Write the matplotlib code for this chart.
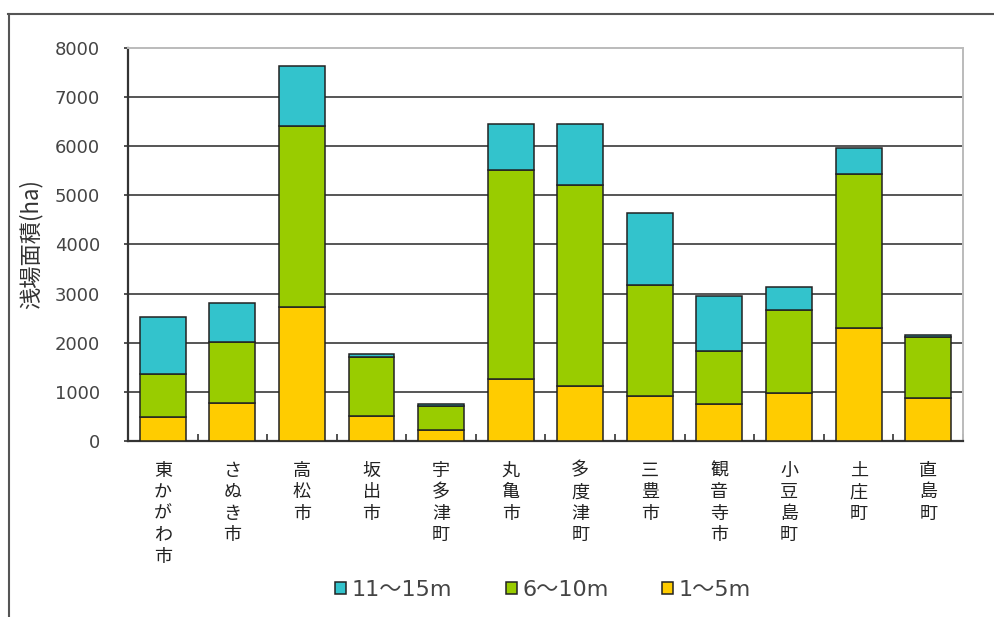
import numpy as np
import matplotlib
matplotlib.use('Agg')
import matplotlib.pyplot as plt
from matplotlib.lines import Line2D

plt.rcParams['font.family'] = ['Noto Sans CJK JP', 'DejaVu Sans']

towns = ['東かがわ市', 'さぬき市', '高松市', '坂出市', '宇多津町', '丸亀市',
         '多度津町', '三豊市', '観音寺市', '小豆島町', '土庄町', '直島町']
depth_1_5 = [480, 770, 2730, 510, 220, 1260, 1120, 920, 750, 970, 2310, 870]
depth_6_10 = [890, 1240, 3690, 1190, 500, 4250, 4100, 2265, 1085, 1700, 3115, 1250]
depth_11_15 = [1150, 800, 1220, 70, 40, 935, 1225, 1465, 1110, 455, 535, 35]
series_labels = ['11～15m', '6～10m', '1～5m']

c_cyan = '#33c3cc'
c_green = '#99cc00'
c_yellow = '#ffcc00'

fig = plt.figure(figsize=(9.95, 6.17), dpi=100)
ax = fig.add_axes([0.1286, 0.2853, 0.8392, 0.6369])

x = np.arange(len(towns))
w = 0.66
b1 = ax.bar(x, depth_1_5, w, color=c_yellow, edgecolor='#222222', linewidth=1.1, zorder=3)
bottom2 = np.array(depth_1_5)
b2 = ax.bar(x, depth_6_10, w, bottom=bottom2, color=c_green, edgecolor='#222222', linewidth=1.1, zorder=3)
bottom3 = bottom2 + np.array(depth_6_10)
b3 = ax.bar(x, depth_11_15, w, bottom=bottom3, color=c_cyan, edgecolor='#222222', linewidth=1.1, zorder=3)

ax.set_xlim(-0.5, len(towns) - 0.5)
ax.set_ylim(0, 8000)
ax.set_yticks(np.arange(0, 8001, 1000))
for v in range(1000, 8000, 1000):
    ax.axhline(v, color='#555555', linewidth=1.4, zorder=1)

for s in ['top', 'right']:
    ax.spines[s].set_color('#bbbbbb')
    ax.spines[s].set_linewidth(1.4)
for s in ['left', 'bottom']:
    ax.spines[s].set_color('#333333')
    ax.spines[s].set_linewidth(1.6)

ax.set_xticks(x)
ax.set_xticklabels(['\n'.join(t) for t in towns], fontsize=13, linespacing=1.25,
                   va='top', color='#222222')
ax.tick_params(axis='x', length=0, pad=15)
ax.set_xticks(np.arange(-0.5, len(towns), 1.0), minor=True)
ax.tick_params(axis='x', which='minor', direction='in', length=5, width=1.2, color='#333333')
ax.tick_params(axis='y', length=3, width=1.2, color='#333333', labelsize=13,
               labelcolor='#444444', pad=17)
for lab in ax.get_yticklabels():
    lab.set_family(['DejaVu Sans'])
ax.set_ylabel('浅場面積(ha)', fontsize=16, color='#333333')
ax.yaxis.set_label_coords(-0.102, 0.5)

leg = fig.legend([b3, b2, b1], series_labels, loc='center', bbox_to_anchor=(0.546, 0.044),
                 ncol=3, frameon=False, handlelength=0.5, handleheight=0.5,
                 handletextpad=0.25, columnspacing=2.4,
                 prop={'family': ['DejaVu Sans', 'Noto Sans CJK JP'], 'size': 16})
for t in leg.get_texts():
    t.set_color('#444444')

# outer frame (top and left edges visible)
fig.add_artist(Line2D([8 / 995, 1.0], [1 - 14 / 617, 1 - 14 / 617], transform=fig.transFigure,
                      color='#555555', linewidth=1.5))
fig.add_artist(Line2D([9 / 995, 9 / 995], [0, 1 - 14 / 617], transform=fig.transFigure,
                      color='#555555', linewidth=1.5))

fig.savefig('out.png', dpi=100)
